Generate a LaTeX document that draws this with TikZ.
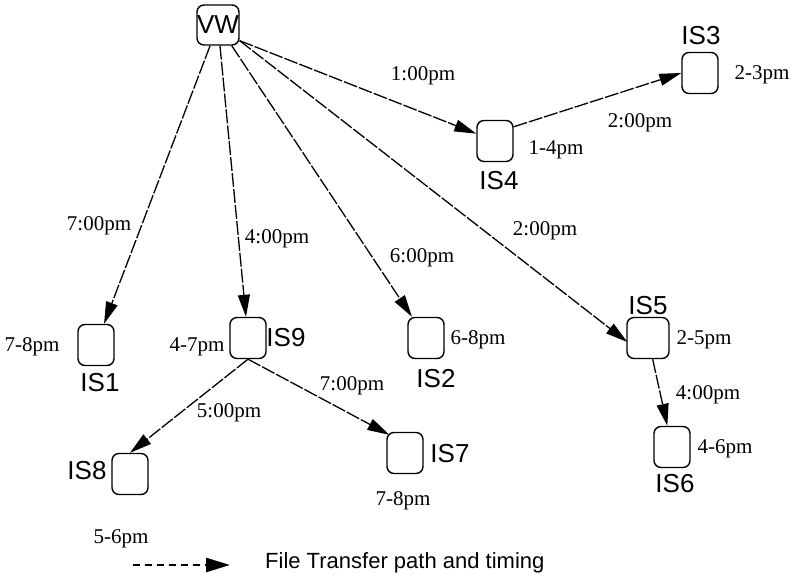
\documentclass[tikz,border=0pt]{standalone}
\usepackage{fontspec}
\setmainfont{Liberation Serif}
\newfontfamily\sansf{Liberation Sans}
\usetikzlibrary{arrows.meta}
\begin{document}
\begin{tikzpicture}[x=1pt,y=-1pt,
  box/.style={draw,line width=1.4pt,rounded corners=7pt,minimum width=36pt,minimum height=41pt,inner sep=0pt},
  islab/.style={anchor=base,inner sep=0pt,font=\sansf\fontsize{26}{29}\selectfont},
  tlab/.style={anchor=base,inner sep=0pt,font=\fontsize{21}{24}\selectfont},
  xfer/.style={line width=1.3pt,dash pattern=on 14pt off 2pt,-{Triangle[length=22pt,width=12pt]}}]
\useasboundingbox (0,0) rectangle (796,585);
% boxes
\node[box,minimum width=42pt,minimum height=40pt,font=\sansf\fontsize{26}{29}\selectfont] (VW) at (218,25) {VW};
\node[box] (IS3) at (700,73) {};
\node[box] (IS4) at (495,141) {};
\node[box] (IS1) at (96,345) {};
\node[box] (IS9) at (248,338) {};
\node[box] (IS2) at (426,338) {};
\node[box,minimum width=42pt] (IS5) at (648,338) {};
\node[box] (IS6) at (672,447) {};
\node[box] (IS7) at (405,453) {};
\node[box] (IS8) at (130,474) {};
% start points
\coordinate (vwr) at ([shift={(0,-5)}]VW.south east);
% connectors
\draw[xfer] (VW) -- (IS1);
\draw[xfer] (VW) -- (IS9);
\draw[xfer] (VW) -- (IS2);
\draw[xfer] (vwr) -- ([shift={(1,4)}]IS5.west);
\draw[xfer] (vwr) -- (IS4);
\draw[xfer] ([shift={(0,7)}]IS4.north east) -- (IS3.west);
\draw[xfer] (IS5) -- (IS6);
\draw[xfer] (IS9.south) -- (IS8.north);
\draw[xfer] (IS9.south) -- ([shift={(3,3)}]IS7.north west);
% IS labels
\node[islab] (lIS3) at (701,45) {IS3};
\node[islab] (lIS4) at (499,190) {IS4};
\node[islab] (lIS5) at (648,315) {IS5};
\node[islab] (lIS1) at (100,392) {IS1};
\node[islab] (lIS9) at (286,347) {IS9};
\node[islab] (lIS2) at (436,388) {IS2};
\node[islab] (lIS7) at (450,463) {IS7};
\node[islab] (lIS6) at (675,493) {IS6};
\node[islab] (lIS8) at (87,480) {IS8};
% timing labels
\node[tlab] (t1) at (99,231) {7:00pm};
\node[tlab] (t2) at (277,244) {4:00pm};
\node[tlab] (t3) at (422,263) {6:00pm};
\node[tlab] (t4) at (545,236) {2:00pm};
\node[tlab] (t5) at (423,81) {1:00pm};
\node[tlab] (t6) at (640,128) {2:00pm};
\node[tlab] (t7) at (708,400) {4:00pm};
\node[tlab] (t8) at (352,391) {7:00pm};
\node[tlab] (t9) at (229,418) {5:00pm};
\node[tlab] (w3) at (762,80) {2-3pm};
\node[tlab] (w4) at (556,155) {1-4pm};
\node[tlab] (w1) at (32,352) {7-8pm};
\node[tlab] (w9) at (197,352) {4-7pm};
\node[tlab] (w2) at (478,345) {6-8pm};
\node[tlab] (w5) at (704,345) {2-5pm};
\node[tlab] (w6) at (725,454) {4-6pm};
\node[tlab] (w7) at (403,505) {7-8pm};
\node[tlab] (w8) at (121,543) {5-6pm};
% legend
\coordinate (lg1) at (133,565);
\coordinate (lg2) at (230,565);
\draw[line width=2.6pt,dash pattern=on 7pt off 5pt,-{Triangle[length=24pt,width=14pt]}] (lg1) -- (lg2);
\node[anchor=base west,inner sep=0pt,font=\sansf\fontsize{22}{26}\selectfont] (leg) at (265,568) {File Transfer path and timing};
\end{tikzpicture}
\end{document}
